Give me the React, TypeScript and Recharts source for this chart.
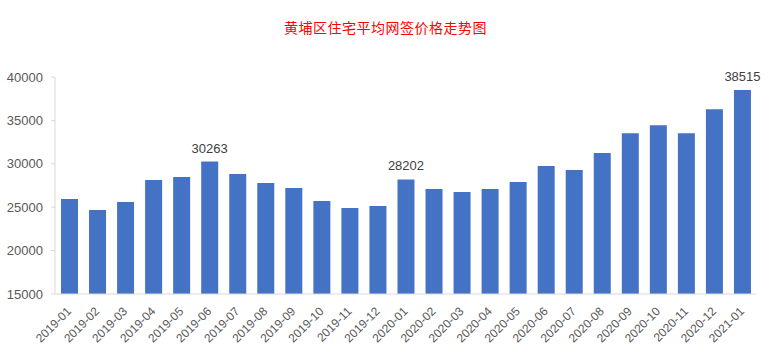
import React from "react";
import { BarChart, Bar, XAxis, YAxis, LabelList } from "recharts";

const months = [
  "2019-01", "2019-02", "2019-03", "2019-04", "2019-05", "2019-06", "2019-07",
  "2019-08", "2019-09", "2019-10", "2019-11", "2019-12", "2020-01", "2020-02",
  "2020-03", "2020-04", "2020-05", "2020-06", "2020-07", "2020-08", "2020-09",
  "2020-10", "2020-11", "2020-12", "2021-01",
];

const prices = [
  25950, 24690, 25600, 28130, 28480, 30263, 28820, 27790, 27210, 25720, 24920,
  25150, 28202, 27100, 26750, 27100, 27900, 29740, 29280, 31230, 33530, 34450,
  33530, 36290, 38515,
];

// only these months carry a value label
const labelled = ["2019-06", "2020-01", "2021-01"];

const yTicks = [15000, 20000, 25000, 30000, 35000, 40000];

const data = months.map((m, i) => ({
  month: m,
  price: prices[i],
  label: labelled.includes(m) ? prices[i] : null,
}));

const FONT = "'Liberation Sans', 'Noto Sans', sans-serif";

const MonthTick = (props: any) => {
  const { x, y, payload } = props;
  return (
    <text
      x={x + 3}
      y={y + 10}
      transform={`rotate(-45, ${x + 3}, ${y + 10})`}
      textAnchor="end"
      fill="#595959"
      fontSize={12}
      fontFamily={FONT}
    >
      {payload.value}
    </text>
  );
};

export default function App() {
  return (
    <div style={{ position: "absolute", left: 0, top: 0, width: 771, height: 358, background: "#fff" }}>
      <div
        style={{
          position: "absolute",
          left: 0,
          top: 17,
          width: 771,
          textAlign: "center",
          color: "#ff0000",
          fontSize: 14,
          fontFamily: "'Noto Sans CJK SC', sans-serif",
          letterSpacing: 0.5,
        }}
      >
        黄埔区住宅平均网签价格走势图
      </div>
      <BarChart
        width={771}
        height={358}
        data={data}
        margin={{ top: 77, right: 15, left: 0, bottom: 0 }}
      >
        <XAxis
          dataKey="month"
          interval={0}
          height={64}
          tickLine={false}
          axisLine={{ stroke: "#d9d9d9" }}
          tick={<MonthTick />}
        />
        <YAxis
          domain={[15000, 40000]}
          ticks={yTicks}
          allowDataOverflow
          width={55}
          tickSize={4}
          tickMargin={8}
          tickLine={{ stroke: "#d9d9d9" }}
          axisLine={{ stroke: "#d9d9d9" }}
          tick={{ fill: "#595959", fontSize: 13, fontFamily: FONT }}
        />
        <Bar dataKey="price" fill="#4472c4" barSize={17} isAnimationActive={false}>
          <LabelList
            dataKey="label"
            position="top"
            offset={9}
            fill="#404040"
            fontSize={13}
            fontFamily={FONT}
          />
        </Bar>
      </BarChart>
    </div>
  );
}
